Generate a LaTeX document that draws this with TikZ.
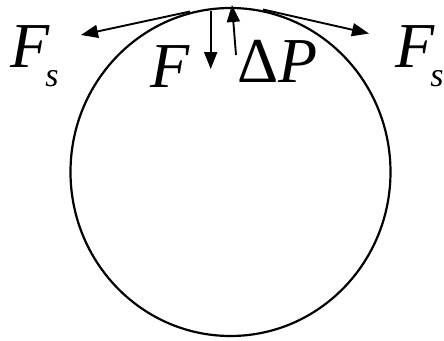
\documentclass[tikz,border=0pt]{standalone}
\usepackage{fontspec}
\setmainfont{Liberation Serif}
\usetikzlibrary{arrows.meta}
\newcommand{\subs}[1]{\kern-4pt\raisebox{-19pt}{\fontsize{34}{34}\selectfont #1}}
\begin{document}
\begin{tikzpicture}[x=1pt,y=-1pt,
  vec/.style={line width=1.9pt,-{Triangle[length=17pt,width=13pt]}},
  lbl/.style={inner sep=0pt,anchor=base west,font=\fontsize{64}{64}\selectfont\itshape}]
\useasboundingbox (0,0) rectangle (444,340);
\draw[line width=2.2pt] (230.5,172) ellipse [x radius=160, y radius=164];
% arrow end points
\coordinate (lsA) at (190,11.5);
\coordinate (lsB) at (81,35);
\coordinate (rsA) at (263,9.5);
\coordinate (rsB) at (369,33.5);
\coordinate (fA) at (210.7,11);
\coordinate (fB) at (210.7,69);
\coordinate (pA) at (236,55);
\coordinate (pB) at (232,5);
\draw[vec] (lsA) -- (lsB);
\draw[vec] (rsA) -- (rsB);
\draw[vec] (fA) -- (fB);
\draw[vec] (pA) -- (pB);
% labels
\node[lbl] (Fl) at (10,67) {F\subs{s}};
\node[lbl] (Fm) at (150,87) {F};
\node[lbl] (dP) at (237,82) {\upshape Δ\itshape P};
\node[lbl] (Fr) at (395,67) {F\subs{s}};
\end{tikzpicture}
\end{document}
